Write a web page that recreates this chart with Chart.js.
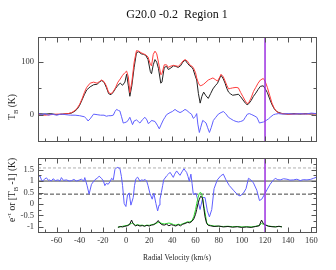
<!DOCTYPE html>
<html><head><meta charset="utf-8">
<script src="https://cdn.jsdelivr.net/npm/chart.js@4.4.1/dist/chart.umd.min.js"></script>
<style>
html,body{margin:0;padding:0;background:#fff;}
#wrap{position:relative;width:336px;height:270px;overflow:hidden;font-family:"Liberation Serif","Times New Roman",serif;color:#111;}
#c1{position:absolute;left:0;top:0;}
#c2{position:absolute;left:0;top:149px;}
.title{position:absolute;left:38px;width:278px;top:7px;text-align:center;font-size:12px;white-space:pre;}
.ylab{position:absolute;white-space:nowrap;font-size:9.5px;transform:translate(-50%,-50%) rotate(-90deg);color:#222;}
sub,sup{font-size:70%;line-height:0;}
</style></head>
<body><div id="wrap">
<canvas id="c1" width="336" height="150"></canvas>
<canvas id="c2" width="336" height="121"></canvas>
<div class="title">G20.0 -0.2  Region 1</div>
<div class="ylab" style="left:12px;top:107px">T<sub>B</sub> (K)</div>
<div class="ylab" style="left:12px;top:190px">e<sup>-τ</sup> or [T<sub>B</sub> -1] (K)</div>
</div>
<script>
const X_MIN=-76, X_MAX=164;
const TOP_MIN=-50, TOP_MAX=148;
const BOT_MIN=-1.22, BOT_MAX=2.0;
const X_TICKS=[-60,-40,-20,0,20,40,60,80,100,120,140,160];
const TOP_TICKS=[0,100];
const BOT_TICKS=[-1,-0.5,0,0.5,1,1.5];
const MARKER_V=120;
const REF_MID=1, REF_HI=1.57, REF_LO=0.43;

// top panel: brightness temperature spectra
const vTB=[-76,-70,-65,-60,-55,-50,-47,-44,-42,-40,
-38,-36,-34,-31,-28,-25,-23,-21,-19,-17,
-15,-13,-11,-9,-7,-5,-3,-1,0.5,2,
3.3,5,7,9,11,13,15,17,19,21,
22,23.5,25,26.5,28,30,31,33,35,36.5,
38,41,43,45,47,49,51,53,55,57,
58,60,61,62.5,64,65.5,67,69,71,73,
75,77,79,81,82,84,85.5,87,88.5,90,
92,95,97,99,101,103,104.5,106,108,110,
112,114,116,118.5,120,122,124,126,128,130,
132,135,140,145,150,155,160,164];
const tbBlack=[2,1,2,0,1,2,3,7,11,18,
28,38,47,53,57,58,62,65,62,52,
40,38,43,50,56,60,56,62,77,55,
35,55,90,118,120,116,115,113,105,82,
78,95,105,100,88,60,62,90,92,86,
88,93,92,90,93,100,104,98,93,90,
86,72,66,40,22,35,43,36,31,40,
49,55,60,70,75,68,60,50,43,40,
37,38,39,34,28,22,19,21,27,35,
41,48,54,55,50,42,30,19,11,6,
4,2,1,2,1,2,1,2];
const tbRed=[0,-1,0,1,1,2,4,8,13,20,
30,42,52,60,62,60,63,66,63,55,
42,40,44,52,62,68,75,80,83,72,
42,62,100,122,121,118,116,114,110,96,
93,115,121,116,100,76,78,95,95,90,
92,94,93,92,96,102,105,102,95,92,
90,80,70,60,55,56,58,62,66,68,
70,67,64,72,77,72,64,56,49,50,
51,52,51,42,34,26,21,23,32,44,
52,60,66,69,64,52,37,22,12,6,
3,2,1,1,2,1,2,1];
const vDiff=[-76,-73,-70,-67,-64,-60,-56,-52,-48,-44,
-40,-36,-34,-32.8,-31,-28,-25,-22,-19,-17,
-15,-13,-11,-9.5,-8.2,-6.5,-5.3,-4,-2.4,-1,
0.5,2,3.3,5.6,7,9.1,10.5,12,14,16.3,
18,19.2,21,22,25,27,28.7,30.5,32.2,33.6,
35,38,40,42.3,44,46.6,48.5,50.9,52.5,54.6,
56.5,58.1,60,61,62,63.3,64.5,66.2,67.5,69.1,
70.5,72,73.5,75.4,77.5,79.7,82,84,86,88.4,
90.5,92.7,95,97,99,101.3,103,104.8,106.5,108.6,
110.5,112.9,114,115.2,116.5,118.6,121,123,125,127.3,
129,131.6,135,140,145,150,155,160,164];
const tbDiff=[3,0,2,-1,1,-1,1,0,-1,-1,
-2,-4,-8,-12,-8,1,0,-1,-1,-3,
-2,-2,-1,6,10,8,7,-3,-16,-15,
-14,-10,-5,-19,-12,-10,-13,-16,-10,-5,
-10,-17,-14,-11,-13,-20,-27,-18,-10,-5,
0,4,6,10,7,4,6,10,8,4,
1,-7,-3,2,-18,-34,-24,-11,-13,-16,
-25,-34,-25,-11,-5,1,4,6,2,-5,
-8,-11,-13,-14,-13,-11,-5,1,2,0,
-2,-5,-10,-16,-15,-14,-11,-8,-4,0,
1,2,1,2,1,2,1,3,2];

// bottom panel: absorption spectrum and emission
const vTau=[-76,-74.5,-73,-72.2,-70.5,-68.7,-67,-65.9,-64.5,-63,
-61,-58.7,-57,-55.8,-54,-51.4,-49,-47,-45,-42.8,
-40.5,-38.5,-36.5,-35.6,-33.6,-31.9,-29.8,-27,-25,-23.2,
-21.2,-19.5,-18.3,-17,-15.4,-13.5,-12.5,-11,-9.6,-7.7,
-5.3,-4,-3,-1.6,-0.1,1.3,2.7,4.2,6.2,7.3,
8.5,10,12,13.5,14.9,16.5,17.8,19,20.6,22.6,
24,25.8,27.3,28.5,29.3,30.5,31.6,32.5,35.1,36.5,
38,40.8,42,43.7,45,46.6,48.3,50,51.2,52.3,
53.5,54.6,56,57,58.1,60.4,62.4,63.9,65,66.2,
68.2,70.2,72,74,76,78.8,81.8,84,86.3,89.2,
92.7,96.1,98.4,101.3,103.6,105.7,107.7,110,112.9,115.2,
117.2,120.1,122,124.4,126.5,128.8,131,133.1,136,138.9,
141.5,144.6,147.5,150.4,153,156.2,159,162,164];
const tau=[1.12,1.25,1.05,0.99,1.08,1.14,1.03,1.05,1.0,1.1,
1.02,1.05,1.0,1.15,1.03,1.05,1.0,1.02,1.07,1.0,
1.04,1.08,1.0,1.15,0.8,0.43,0.86,1.05,1.12,1.21,
1.12,1.0,0.8,0.9,0.86,1.0,1.12,1.05,1.5,1.6,
1.55,1.2,0.8,0.02,-0.11,0.41,0.48,-0.05,0.28,0.8,
1.1,1.17,1.0,1.05,1.03,1.07,1.0,0.8,0.47,0.21,
0.47,0.02,-0.3,-0.05,0.21,0.5,0.8,1.05,1.23,1.3,
1.38,1.16,1.3,1.44,1.35,1.25,1.4,1.54,1.45,1.38,
1.2,0.99,1.3,0.9,0.41,0.47,0.08,-0.24,0.0,0.28,
0.28,-0.3,-0.56,-0.24,0.67,1.05,1.23,1.3,1.05,0.8,
0.6,0.41,0.35,0.47,0.67,1.12,1.05,0.92,0.6,0.15,
0.21,0.47,0.65,0.86,1.0,1.12,1.06,1.05,1.1,1.08,
1.04,1.05,1.08,1.02,1.06,1.05,1.07,1.12,1.16];
const vEm=[-7,-5,-3,-1,1,3,4.8,6,8,10,
12,14,16,18,20,22,24,26,27.8,29,
31,33,35,37,39,41,43,45,47,49,
51,53,55,57,58.5,60,61,62.3,63.3,64.5,
65.5,66.2,67.2,68.2,69.6,71,73,76,80,84,
88,92,96,100,104,108,112,115,117,118.5,
120,123,126,129,132,134.6];
const emBlack=[-1.02,-0.98,-1.0,-0.97,-0.95,-0.9,-0.7,-0.85,-0.95,-0.92,
-0.96,-0.94,-0.97,-0.93,-0.96,-0.92,-0.9,-0.82,-0.72,-0.82,
-0.9,-0.92,-0.88,-0.95,-0.9,-0.93,-0.96,-0.9,-0.95,-0.88,
-0.85,-0.8,-0.82,-0.75,-0.65,-0.45,-0.24,0.05,0.21,0.34,
0.3,0.21,-0.2,-0.56,-0.85,-0.93,-0.95,-0.98,-0.96,-1.0,
-0.98,-1.01,-0.99,-1.02,-1.0,-1.02,-0.98,-0.95,-0.7,-0.85,
-0.9,-0.97,-0.99,-1.0,-0.97,-1.0];
const emGreen=[-1.0,-1.0,-0.97,-0.95,-0.93,-0.88,-0.85,-0.82,-0.93,-0.9,
-0.93,-0.92,-0.95,-0.92,-0.93,-0.9,-0.88,-0.85,-0.8,-0.8,
-0.85,-0.87,-0.85,-0.83,-0.85,-0.9,-0.92,-0.88,-0.9,-0.86,
-0.82,-0.78,-0.78,-0.72,-0.55,-0.25,0.02,0.3,0.47,0.5,
0.4,0.21,-0.1,-0.37,-0.8,-0.9,-0.93,-0.96,-0.97,-0.98,
-0.97,-0.99,-0.98,-1.0,-0.99,-1.0,-0.97,-0.93,-0.85,-0.88,
-0.92,-0.96,-0.98,-0.99,-0.98,-0.99];

const pts=(xs,ys)=>xs.map((x,i)=>({x:x,y:ys[i]}));
const FONT='"Liberation Serif","Times New Roman",serif';
const plain=v=>String(v);

const framePlugin={
  id:'frame',
  afterDatasetsDraw(chart,args,o){
    const {ctx,chartArea:a,scales}=chart;
    const xs=scales.x, ys=scales.y;
    ctx.save();
    ctx.strokeStyle='#555';ctx.lineWidth=1;
    const L=Math.round(a.left)+0.5,R=Math.round(a.right)+0.5,T=Math.round(a.top)+0.5,B=Math.round(a.bottom)+0.5;
    ctx.strokeRect(L,T,R-L,B-T);
    ctx.beginPath();
    for(let v=Math.ceil(X_MIN/10)*10; v<=X_MAX; v+=10){
      const px=Math.round(xs.getPixelForValue(v))+0.5;
      const len=(v%20===0)?5:3;
      ctx.moveTo(px,T);ctx.lineTo(px,T+len);
      ctx.moveTo(px,B);ctx.lineTo(px,B-len);
    }
    o.major.forEach(v=>{const py=Math.round(ys.getPixelForValue(v))+0.5;
      ctx.moveTo(L,py);ctx.lineTo(L+5,py);ctx.moveTo(R,py);ctx.lineTo(R-5,py);});
    o.minor.forEach(v=>{const py=Math.round(ys.getPixelForValue(v))+0.5;
      ctx.moveTo(L,py);ctx.lineTo(L+3,py);ctx.moveTo(R,py);ctx.lineTo(R-3,py);});
    ctx.stroke();
    ctx.restore();
  }
};

const line=(data,color,w,extra)=>Object.assign({data:data,borderColor:color,borderWidth:w,showLine:true,pointRadius:0,fill:false,tension:0},extra||{});

new Chart(document.getElementById('c1'),{
  type:'scatter',
  data:{datasets:[
    line([{x:MARKER_V,y:TOP_MIN},{x:MARKER_V,y:TOP_MAX}],'#9b30e0',1.5),
    line(pts(vDiff,tbDiff),'rgb(95,95,255)',1),
    line(pts(vTB,tbRed),'rgb(255,60,60)',1),
    line(pts(vTB,tbBlack),'#222',1)
  ]},
  options:{
    responsive:false,animation:false,devicePixelRatio:1,
    layout:{padding:{top:37,right:20,bottom:1,left:0},autoPadding:false},
    plugins:{legend:{display:false},tooltip:{enabled:false},title:{display:false},
      frame:{major:TOP_TICKS,minor:[50]}},
    scales:{
      x:{type:'linear',min:X_MIN,max:X_MAX,display:false},
      y:{type:'linear',min:TOP_MIN,max:TOP_MAX,
        afterFit(s){s.width=38;},
        afterBuildTicks(s){s.ticks=TOP_TICKS.map(v=>({value:v}));},
        grid:{display:false,drawTicks:false},border:{display:false},
        ticks:{padding:4,color:'#333',callback:plain,font:{family:FONT,size:8.5}}}
    }
  },
  plugins:[framePlugin]
});

new Chart(document.getElementById('c2'),{
  type:'scatter',
  data:{datasets:[
    line([{x:MARKER_V,y:BOT_MIN},{x:MARKER_V,y:BOT_MAX}],'#9b30e0',1.5),
    line(pts(vEm,emBlack),'#111',1),
    line(pts(vEm,emGreen),'rgb(40,220,40)',1),
    line(pts(vTau,tau),'rgb(95,95,255)',1),
    line([{x:X_MIN,y:REF_MID},{x:X_MAX,y:REF_MID}],'#444',1),
    line([{x:X_MIN,y:REF_HI},{x:X_MAX,y:REF_HI}],'#b0b0b0',1,{borderDash:[3,2]}),
    line([{x:X_MIN,y:REF_LO},{x:X_MAX,y:REF_LO}],'#444',1,{borderDash:[4,2]})
  ]},
  options:{
    responsive:false,animation:false,devicePixelRatio:1,
    layout:{padding:{top:0,right:20,bottom:0,left:0},autoPadding:false},
    plugins:{legend:{display:false},tooltip:{enabled:false},title:{display:false},
      frame:{major:BOT_TICKS,minor:[-0.75,-0.25,0.25,0.75,1.25,1.75]}},
    scales:{
      x:{type:'linear',min:X_MIN,max:X_MAX,
        afterFit(s){s.height=38;},
        afterBuildTicks(s){s.ticks=X_TICKS.map(v=>({value:v}));},
        grid:{display:false,drawTicks:false},border:{display:false},
        ticks:{padding:4,color:'#333',callback:plain,maxRotation:0,autoSkip:false,font:{family:FONT,size:8.5}},
        title:{display:true,text:'Radial Velocity (km/s)',color:'#222',font:{family:FONT,size:7.5},padding:{top:0,bottom:7}}},
      y:{type:'linear',min:BOT_MIN,max:BOT_MAX,
        afterFit(s){s.width=38;},
        afterBuildTicks(s){s.ticks=BOT_TICKS.map(v=>({value:v}));},
        grid:{display:false,drawTicks:false},border:{display:false},
        ticks:{padding:4,color:'#333',callback:plain,font:{family:FONT,size:8.5}}}
    }
  },
  plugins:[framePlugin]
});
</script>
</body></html>
